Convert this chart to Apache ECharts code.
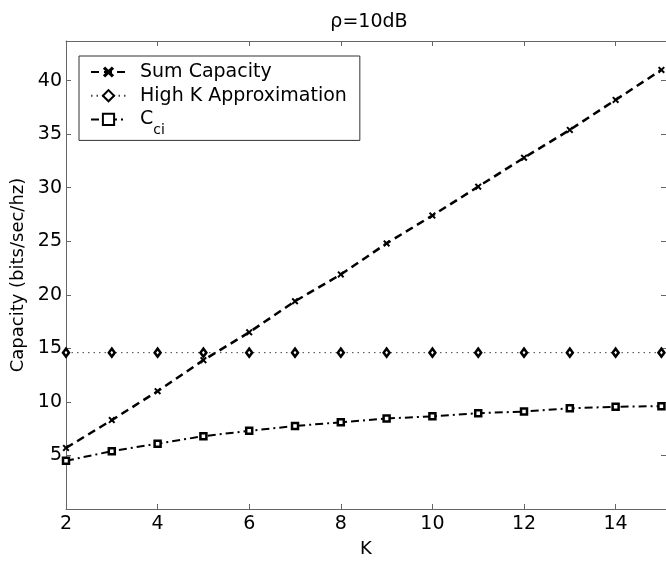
<!DOCTYPE html>
<html>
<head>
<meta charset="utf-8">
<script src="https://cdn.jsdelivr.net/npm/echarts@6/dist/echarts.min.js"></script>
<style>html,body{margin:0;padding:0;background:#fff}#c{width:666px;height:563px}</style>
</head>
<body>
<div id="c"></div>
<script>
const K = [2, 3, 4, 5, 6, 7, 8, 9, 10, 11, 12, 13, 14, 15];
const sumCapacity = [5.7, 8.3, 11.0, 13.9, 16.5, 19.4, 21.9, 24.8, 27.4, 30.1, 32.8, 35.4, 38.2, 41.0];
const highKApprox = [14.6, 14.6, 14.6, 14.6, 14.6, 14.6, 14.6, 14.6, 14.6, 14.6, 14.6, 14.6, 14.6, 14.6];
const cci = [4.5, 5.4, 6.1, 6.8, 7.3, 7.75, 8.1, 8.45, 8.65, 8.95, 9.1, 9.4, 9.55, 9.6];
const xTicks = [2, 4, 6, 8, 10, 12, 14];
const yTicks = [5, 10, 15, 20, 25, 30, 35, 40];

const FONT = '"DejaVu Sans", "Liberation Sans", Arial, sans-serif';
const pairs = (xs, ys) => xs.map((x, i) => [x, ys[i]]);
const xMark = 'path://M0,2 L2,0 L5,3 L8,0 L10,2 L7,5 L10,8 L8,10 L5,7 L2,10 L0,8 L3,5 Z';

const chart = echarts.init(document.getElementById('c'), null, {renderer: 'canvas'});
const axisCommon = {
  axisLine: {show: true, onZero: false, lineStyle: {color: '#666', width: 1}},
  axisTick: {show: true, inside: true, length: 5, lineStyle: {color: '#666'}},
  splitLine: {show: false}
};
chart.setOption({
  animation: false,
  backgroundColor: '#fff',
  title: {
    text: 'ρ=10dB', left: 364, top: 8, textAlign: 'center',
    textStyle: {fontFamily: FONT, fontSize: 19, fontWeight: 'normal', color: '#000'}
  },
  grid: {left: 66, top: 41, width: 601, height: 473},
  legend: {
    left: 79, top: 56, orient: 'vertical',
    padding: [6, 13, 3, 11], itemGap: 3.7, itemWidth: 35, itemHeight: 14,
    borderColor: '#333', borderWidth: 1, backgroundColor: '#fff',
    data: ['Sum Capacity', 'High K Approximation', 'C_ci'],
    formatter: n => n === 'C_ci' ? '{a|C}{b|ci}' : n,
    textStyle: {
      fontFamily: FONT, fontSize: 19, color: '#000', lineHeight: 20, padding: [0, 0, 0, 9],
      rich: {
        a: {fontFamily: FONT, fontSize: 19, color: '#000', lineHeight: 20, verticalAlign: 'top'},
        b: {fontFamily: FONT, fontSize: 14, color: '#000', lineHeight: 14, verticalAlign: 'top', padding: [14, 0, 0, 0]}
      }
    }
  },
  xAxis: [
    Object.assign({}, axisCommon, {
      type: 'value', min: 2, max: 15.1, interval: 2, position: 'bottom',
      name: 'K', nameLocation: 'middle', nameGap: 31,
      nameTextStyle: {fontFamily: FONT, fontSize: 18, color: '#000'},
      axisLabel: {fontFamily: FONT, fontSize: 19, color: '#000', margin: 6, showMaxLabel: false}
    }),
    Object.assign({}, axisCommon, {
      type: 'value', min: 2, max: 15.1, interval: 2, position: 'top',
      axisLabel: {show: false}
    })
  ],
  yAxis: [
    Object.assign({}, axisCommon, {
      type: 'value', min: 0, max: 43.7, interval: 5, position: 'left',
      name: 'Capacity (bits/sec/hz)', nameLocation: 'middle', nameGap: 38,
      nameTextStyle: {fontFamily: FONT, fontSize: 18, color: '#000'},
      axisLabel: {fontFamily: FONT, fontSize: 19, color: '#000', margin: 4, showMinLabel: false, showMaxLabel: false}
    }),
    Object.assign({}, axisCommon, {
      type: 'value', min: 0, max: 43.7, interval: 5, position: 'right',
      axisLabel: {show: false}
    })
  ],
  series: [
    {
      name: 'Sum Capacity', type: 'line', data: pairs(K, sumCapacity),
      symbol: xMark, symbolSize: 7, showAllSymbol: true,
      lineStyle: {color: '#000', width: 2.5, type: [8, 5]},
      itemStyle: {color: '#000', borderWidth: 0}
    },
    {
      name: 'High K Approximation', type: 'line', data: pairs(K, highKApprox),
      symbol: 'diamond', symbolSize: [6, 8], showAllSymbol: true,
      lineStyle: {color: '#444', width: 1, type: [1.5, 4]},
      itemStyle: {color: '#fff', borderColor: '#000', borderWidth: 2.5}
    },
    {
      name: 'C_ci', type: 'line', data: pairs(K, cci),
      symbol: 'rect', symbolSize: 6, showAllSymbol: true,
      lineStyle: {color: '#000', width: 2, type: [8, 4, 2, 4]},
      itemStyle: {color: '#fff', borderColor: '#000', borderWidth: 2.5}
    }
  ]
});
</script>
</body>
</html>
